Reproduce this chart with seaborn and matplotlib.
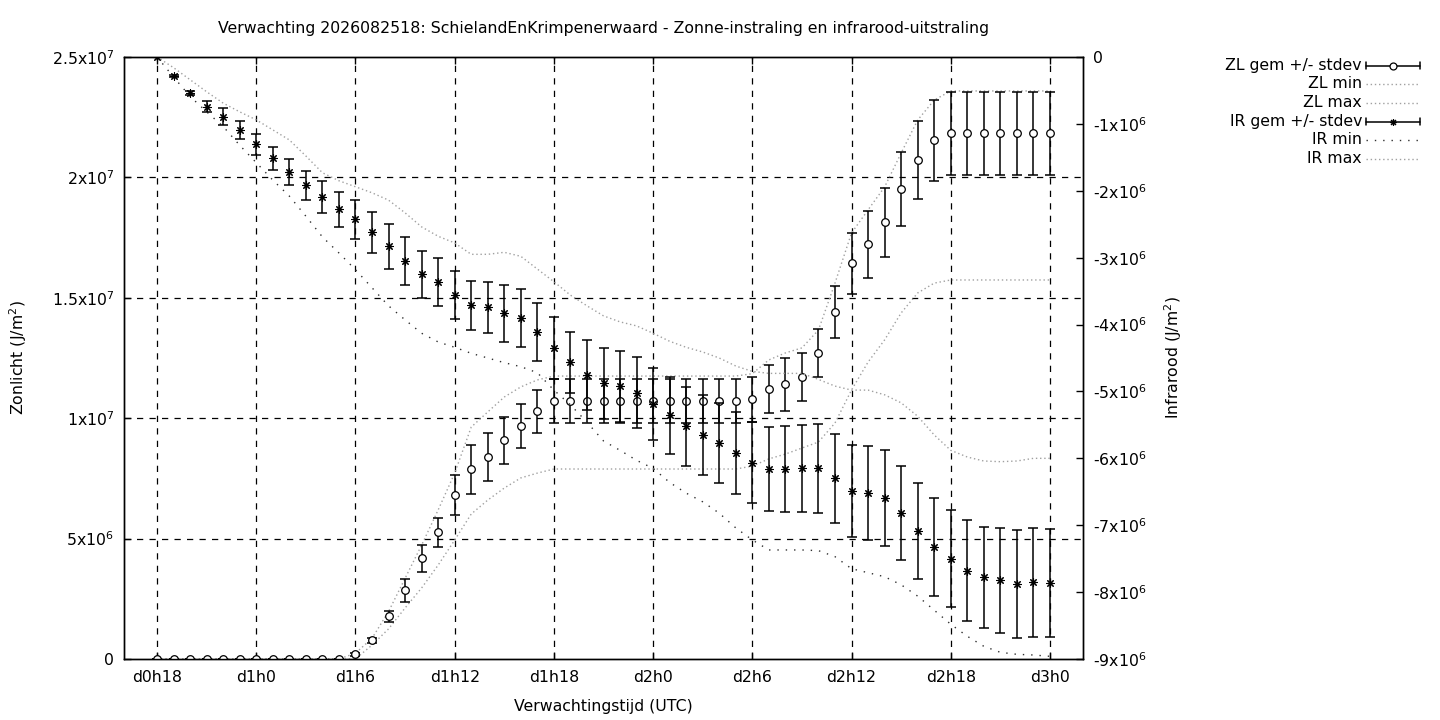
import numpy as np
import pandas as pd
import matplotlib
matplotlib.use('Agg')
import matplotlib.pyplot as plt
import seaborn as sns
from matplotlib.lines import Line2D

# uren na 0h op dag 0
uren = [18, 19, 20, 21, 22, 23, 24, 25, 26, 27, 28, 29, 30, 31, 32, 33, 34, 35,
        36, 37, 38, 39, 40, 41, 42, 43, 44, 45, 46, 47, 48, 49, 50, 51, 52, 53,
        54, 55, 56, 57, 58, 59, 60, 61, 62, 63, 64, 65, 66, 67, 68, 69, 70, 71, 72]

xtick_uren = [18, 24, 30, 36, 42, 48, 54, 60, 66, 72]
xtick_labels = ['d0h18', 'd1h0', 'd1h6', 'd1h12', 'd1h18',
                'd2h0', 'd2h6', 'd2h12', 'd2h18', 'd3h0']

ytick_zl = [0, 5e6, 1e7, 1.5e7, 2e7, 2.5e7]
ytick_zl_labels = ['0', '5x10$^{6}$', '1x10$^{7}$', '1.5x10$^{7}$', '2x10$^{7}$', '2.5x10$^{7}$']
ytick_ir = [-9e6, -8e6, -7e6, -6e6, -5e6, -4e6, -3e6, -2e6, -1e6, 0]
ytick_ir_labels = ['-9x10$^{6}$', '-8x10$^{6}$', '-7x10$^{6}$', '-6x10$^{6}$', '-5x10$^{6}$',
                   '-4x10$^{6}$', '-3x10$^{6}$', '-2x10$^{6}$', '-1x10$^{6}$', '0']

# zonlicht (x 1e6 J/m2)
zl_gem = [0, 0, 0, 0, 0, 0, 0, 0, 0, 0, 0, 0, 0.19, 0.78, 1.77, 2.85, 4.18, 5.26,
          6.80, 7.88, 8.38, 9.08, 9.66, 10.29, 10.70, 10.70, 10.70, 10.70, 10.70, 10.70,
          10.70, 10.70, 10.70, 10.70, 10.70, 10.70, 10.78, 11.20, 11.41, 11.70, 12.70, 14.40,
          16.44, 17.23, 18.13, 19.52, 20.72, 21.55, 21.83, 21.83, 21.83, 21.83, 21.83, 21.83, 21.83]
zl_std = [0, 0, 0, 0, 0, 0, 0, 0, 0, 0, 0, 0, 0.05, 0.1, 0.22, 0.47, 0.56, 0.59,
          0.84, 1.01, 1.0, 0.97, 0.91, 0.89, 0.92, 0.92, 0.92, 0.92, 0.92, 0.92,
          0.92, 0.92, 0.92, 0.92, 0.92, 0.92, 0.95, 0.99, 1.1, 1.0, 1.0, 1.09,
          1.27, 1.39, 1.42, 1.54, 1.63, 1.68, 1.71, 1.71, 1.71, 1.71, 1.71, 1.71, 1.71]
zl_min = [0, 0, 0, 0, 0, 0, 0, 0, 0, 0, 0, 0, 0, 0.58, 1.25, 2.12, 2.95, 3.90,
          4.94, 6.02, 6.60, 7.10, 7.52, 7.72, 7.89, 7.89, 7.89, 7.89, 7.89, 7.89,
          7.89, 7.89, 7.89, 7.89, 7.89, 7.89, 8.01, 8.31, 8.51, 8.76, 9.01, 9.80,
          11.17, 12.33, 13.25, 14.37, 15.20, 15.61, 15.74, 15.74, 15.74, 15.74, 15.74, 15.74, 15.74]
zl_max = [0, 0, 0, 0, 0, 0, 0, 0, 0, 0, 0, 0, 0.24, 0.86, 1.97, 3.35, 4.73, 6.19,
          7.72, 9.63, 10.26, 10.88, 11.30, 11.59, 11.75, 11.75, 11.75, 11.75, 11.75, 11.75,
          11.75, 11.75, 11.75, 11.75, 11.75, 11.75, 11.85, 12.42, 12.71, 12.92, 13.66, 15.61,
          17.69, 18.65, 19.60, 21.01, 22.38, 23.21, 23.59, 23.59, 23.59, 23.59, 23.59, 23.59, 23.59]

# infrarood (x 1e6 J/m2)
ir_gem = [0, -0.284, -0.543, -0.743, -0.892, -1.096, -1.305, -1.515, -1.725, -1.918,
          -2.098, -2.277, -2.427, -2.621, -2.830, -3.05, -3.25, -3.364, -3.558, -3.713,
          -3.743, -3.829, -3.909, -4.118, -4.353, -4.567, -4.747, -4.881, -4.926, -5.016,
          -5.19, -5.355, -5.52, -5.656, -5.776, -5.925, -6.065, -6.158, -6.158, -6.15,
          -6.15, -6.30, -6.49, -6.52, -6.59, -6.82, -7.08, -7.32, -7.50, -7.68,
          -7.78, -7.82, -7.88, -7.85, -7.87]
ir_std = [0, 0.02, 0.03, 0.08, 0.124, 0.135, 0.154, 0.169, 0.194, 0.217,
          0.239, 0.266, 0.296, 0.306, 0.336, 0.359, 0.356, 0.366, 0.362, 0.363,
          0.381, 0.426, 0.434, 0.434, 0.459, 0.463, 0.523, 0.531, 0.534, 0.531,
          0.543, 0.573, 0.588, 0.598, 0.598, 0.613, 0.610, 0.628, 0.643, 0.653,
          0.665, 0.662, 0.688, 0.703, 0.718, 0.707, 0.718, 0.733, 0.730, 0.755,
          0.759, 0.785, 0.807, 0.815, 0.807]
ir_min = [0, -0.30, -0.59, -0.82, -1.04, -1.32, -1.58, -1.84, -2.08, -2.38,
          -2.69, -2.93, -3.18, -3.45, -3.72, -3.93, -4.13, -4.26, -4.34, -4.43,
          -4.50, -4.57, -4.63, -4.72, -4.98, -5.20, -5.46, -5.74, -5.88, -6.03,
          -6.15, -6.36, -6.52, -6.65, -6.82, -7.04, -7.22, -7.37, -7.37, -7.37,
          -7.38, -7.47, -7.65, -7.71, -7.77, -7.89, -8.06, -8.27, -8.48, -8.66,
          -8.81, -8.90, -8.93, -8.94, -8.96]
ir_max = [0, -0.16, -0.34, -0.52, -0.69, -0.82, -0.94, -1.09, -1.24, -1.48,
          -1.73, -1.85, -1.94, -2.03, -2.14, -2.33, -2.54, -2.68, -2.78, -2.95,
          -2.95, -2.92, -2.98, -3.17, -3.36, -3.56, -3.72, -3.87, -3.96, -4.02,
          -4.13, -4.25, -4.34, -4.41, -4.50, -4.62, -4.70, -4.73, -4.73, -4.73,
          -4.82, -4.92, -4.98, -4.98, -5.05, -5.17, -5.37, -5.65, -5.88, -5.98,
          -6.04, -6.05, -6.04, -6.00, -6.00]

df = pd.DataFrame({'uur': uren,
                   'zl_gem': np.array(zl_gem) * 1e6, 'zl_std': np.array(zl_std) * 1e6,
                   'zl_min': np.array(zl_min) * 1e6, 'zl_max': np.array(zl_max) * 1e6,
                   'ir_gem': np.array(ir_gem) * 1e6, 'ir_std': np.array(ir_std) * 1e6,
                   'ir_min': np.array(ir_min) * 1e6, 'ir_max': np.array(ir_max) * 1e6})

LICHT = '#a0a0a0'
DONKER = '#303030'
FS = 11.3

sns.set_style("ticks")
plt.rcParams['font.family'] = ['DejaVu Sans']
plt.rcParams['mathtext.fontset'] = 'dejavusans'
plt.rcParams['text.color'] = 'black'
plt.rcParams['axes.labelcolor'] = 'black'
plt.rcParams['xtick.color'] = 'black'
plt.rcParams['ytick.color'] = 'black'

fig = plt.figure(figsize=(14.4, 7.2), dpi=100)
ax = fig.add_axes([124 / 1440, 1 - 659 / 720, (1083 - 124) / 1440, (659 - 57) / 720])
ax2 = ax.twinx()

# grid
for x in xtick_uren:
    ax.axvline(x, color='black', lw=0.9, ls=(0, (5, 5)), zorder=0)
for y in ytick_zl[1:-1]:
    ax.axhline(y, color='black', lw=0.9, ls=(0, (5, 5)), zorder=0)

# zonlicht
sns.lineplot(data=df, x='uur', y='zl_min', ax=ax, color=LICHT, lw=1.0, ls=(0, (1, 2)), zorder=2)
sns.lineplot(data=df, x='uur', y='zl_max', ax=ax, color=LICHT, lw=1.0, ls=(0, (1, 2)), zorder=2)
ax.errorbar(df['uur'], df['zl_gem'], yerr=df['zl_std'], fmt='none', ecolor='black',
            elinewidth=1.1, capsize=3.5, capthick=1.1, zorder=3)
sns.scatterplot(data=df, x='uur', y='zl_gem', ax=ax, marker='o', s=30, facecolor='white',
                edgecolor='black', linewidth=0.9, zorder=4)

# infrarood
sns.lineplot(data=df, x='uur', y='ir_min', ax=ax2, color=DONKER, lw=1.0, ls=(0, (1, 5)), zorder=2)
sns.lineplot(data=df, x='uur', y='ir_max', ax=ax2, color=LICHT, lw=1.0, ls=(0, (1, 2)), zorder=2)
ax2.errorbar(df['uur'], df['ir_gem'], yerr=df['ir_std'], fmt='none', ecolor='black',
             elinewidth=1.1, capsize=3.5, capthick=1.1, zorder=3)
ax2.scatter(df['uur'], df['ir_gem'], marker=(8, 2, 0), s=30, color='black', linewidth=0.8, zorder=4)

ax.set_xlim(16, 74)
ax.set_ylim(0, 2.5e7)
ax2.set_ylim(-9e6, 0)

ax.set_xticks(xtick_uren)
ax.set_xticklabels(xtick_labels, fontsize=FS)
ax.set_yticks(ytick_zl)
ax.set_yticklabels(ytick_zl_labels, fontsize=FS)
ax2.set_yticks(ytick_ir)
ax2.set_yticklabels(ytick_ir_labels, fontsize=FS)

ax.tick_params(axis='x', direction='in', length=5, width=1, top=True, pad=8)
ax.tick_params(axis='y', direction='in', length=5, width=1, right=False, pad=7)
ax2.tick_params(axis='y', direction='in', length=5, width=1, pad=7)
for a in (ax, ax2):
    a.set_xlabel('')
    a.set_ylabel('')
    for s in a.spines.values():
        s.set_color('black')
        s.set_linewidth(1.0)

fig.text(603.5 / 1440, 1 - 29 / 720,
         'Verwachting 2026082518: SchielandEnKrimpenerwaard - Zonne-instraling en infrarood-uitstraling',
         ha='center', va='center', fontsize=FS)
fig.text(603.5 / 1440, 1 - 706 / 720, 'Verwachtingstijd (UTC)', ha='center', va='center', fontsize=FS)
fig.text(18 / 1440, 1 - 358 / 720, 'Zonlicht (J/m$^{2}$)', rotation=90, ha='center', va='center', fontsize=FS)
fig.text(1173 / 1440, 1 - 358 / 720, 'Infrarood (J/m$^{2}$)', rotation=90, ha='center', va='center', fontsize=FS)

# legenda (gnuplot stijl: tekst rechts uitgelijnd, voorbeeld rechts)
leg_tekst = ['ZL gem +/- stdev', 'ZL min', 'ZL max', 'IR gem +/- stdev', 'IR min', 'IR max']
leg_y = [65.5, 84, 102.5, 121.5, 140, 158.5]
x0, x1 = 1366, 1420


def fx(px):
    return px / 1440


def fy(py):
    return 1 - py / 720


for tekst, py in zip(leg_tekst, leg_y):
    fig.text(fx(1362), fy(py), tekst, ha='right', va='center', fontsize=FS)

for i in (0, 3):
    py = leg_y[i]
    fig.add_artist(Line2D([fx(x0), fx(x1)], [fy(py), fy(py)], color='black', lw=1.1))
    for px in (x0, x1):
        fig.add_artist(Line2D([fx(px), fx(px)], [fy(py - 3.5), fy(py + 3.5)], color='black', lw=1.1))
fig.add_artist(Line2D([fx(1393)], [fy(leg_y[0])], marker='o', ms=5.0, mfc='white', mec='black', mew=0.9, ls='none'))
fig.add_artist(Line2D([fx(1393)], [fy(leg_y[3])], marker=(8, 2, 0), ms=5.0, color='black', mew=0.8, ls='none'))
for i, kleur, stijl in ((1, LICHT, (0, (1, 2))), (2, LICHT, (0, (1, 2))), (4, DONKER, (0, (1, 5))), (5, LICHT, (0, (1, 2)))):
    py = leg_y[i]
    fig.add_artist(Line2D([fx(x0), fx(x1)], [fy(py), fy(py)], color=kleur, lw=1.0, ls=stijl))

fig.savefig('out.png', dpi=100)
